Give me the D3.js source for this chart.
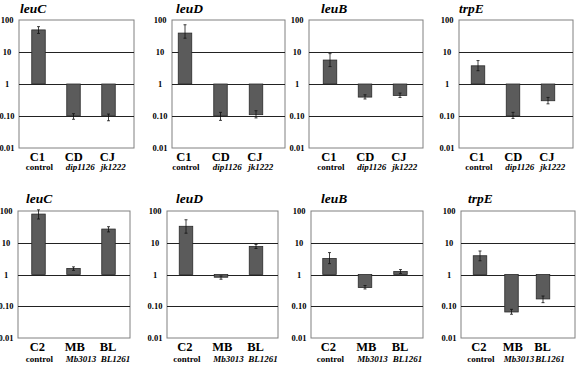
<!DOCTYPE html>
<html>
<head>
<meta charset="utf-8">
<script src="https://cdn.jsdelivr.net/npm/d3@7"></script>
<style>
  body { margin: 0; background: #fff; }
</style>
</head>
<body>
<div id="chart"></div>
<script>
// genes (panel titles) and strains
const genes = ["leuC", "leuD", "leuB", "trpE"];
const topStrains = ["C1", "CD", "CJ"];
const topSubs = ["control", "dip1126", "jk1222"];
const botStrains = ["C2", "MB", "BL"];
const botSubs = ["control", "Mb3013", "BL1261"];

// y ticks
const yTicks = [100, 10, 1, 0.1, 0.01];
const yTickLabels = ["100", "10", "1", "0.10", "0.01"];
const gridVals = [10, 1, 0.1];

// relative expression, one row per gene (leuC, leuD, leuB, trpE)
const topMean = [[49, 0.10, 0.10], [39, 0.10, 0.11], [5.6, 0.39, 0.44], [3.7, 0.10, 0.30]];
const topLow  = [[38, 0.079, 0.071], [27, 0.073, 0.087], [3.5, 0.34, 0.38], [2.6, 0.084, 0.24]];
const topHigh = [[62, 0.118, 0.115], [71, 0.13, 0.146], [8.9, 0.46, 0.52], [5.4, 0.13, 0.38]];
const botMean = [[80, 1.55, 27], [33, 0.82, 7.6], [3.2, 0.39, 1.24], [3.9, 0.066, 0.17]];
const botLow  = [[56, 1.35, 22], [20, 0.71, 6.6], [2.2, 0.35, 1.08], [2.7, 0.056, 0.13]];
const botHigh = [[109, 1.74, 32], [53, 0.9, 8.8], [4.9, 0.45, 1.43], [5.5, 0.08, 0.21]];

// panel boxes (layout only)
const topRow = { y0: 20, y1: 148, labelY: 160.5, subY: 170, titleY: 13 };
const botRow = { y0: 211, y1: 338, labelY: 351, subY: 361.5, titleY: 202.5 };
const topBoxes = [
  { x0: 19, x1: 134, c0: 38.5, c2: 108.5, tx: 20 },
  { x0: 172, x1: 285, c0: 185, c2: 256, tx: 176 },
  { x0: 309, x1: 423, c0: 330, c2: 400, tx: 321 },
  { x0: 459, x1: 573, c0: 478, c2: 548, tx: 459 }
];
const botBoxes = [
  { x0: 18, x1: 130, c0: 38.5, c2: 108.5, tx: 26 },
  { x0: 167, x1: 278, c0: 186, c2: 256, tx: 176 },
  { x0: 311, x1: 423, c0: 329.5, c2: 400.5, tx: 321 },
  { x0: 461, x1: 575, c0: 480, c2: 543, tx: 468 }
];

const barW = 13.5;
const serif = "Liberation Serif";

const svg = d3.select("#chart")
  .append("svg")
    .attr("width", 576)
    .attr("height", 365)
    .attr("font-family", serif)
    .attr("font-weight", "bold");

function drawPanel(box, row, gene, strains, subs, mean, low, high) {
  const y = d3.scaleLog().domain([0.01, 100]).range([row.y1, row.y0]);
  const x = d3.scalePoint().domain(strains).range([box.c0, box.c2]);
  const g = svg.append("g");

  // box
  g.append("rect")
    .attr("x", box.x0).attr("y", row.y0)
    .attr("width", box.x1 - box.x0).attr("height", row.y1 - row.y0)
    .attr("fill", "none").attr("stroke", "#808080").attr("stroke-width", 1);

  // gridlines
  g.selectAll(".grid").data(gridVals).join("line")
    .attr("x1", box.x0).attr("x2", box.x1)
    .attr("y1", d => Math.round(y(d)) + 0.5).attr("y2", d => Math.round(y(d)) + 0.5)
    .attr("stroke", "#222").attr("stroke-width", 1);

  // y axis labels
  const ax = g.append("g")
    .attr("transform", `translate(${box.x0},0)`)
    .call(d3.axisLeft(y).tickValues(yTicks).tickFormat((d, i) => yTickLabels[i]).tickSize(0));
  ax.select(".domain").remove();
  ax.attr("font-family", serif).attr("font-size", null);
  ax.selectAll("text")
    .attr("x", -12)
    .attr("text-anchor", "middle")
    .style("font-family", serif)
    .style("font-weight", "bold")
    .style("font-size", "8.5px")
    .attr("fill", "#000");

  const data = strains.map((s, i) => ({ s: s, v: mean[i], lo: low[i], hi: high[i] }));

  // bars from 1
  g.selectAll(".bar").data(data).join("rect")
    .attr("x", d => x(d.s) - barW / 2)
    .attr("y", d => Math.min(y(d.v), y(1)))
    .attr("width", barW)
    .attr("height", d => Math.abs(y(d.v) - y(1)))
    .attr("fill", "#5b5b5b")
    .attr("stroke", "#2a2a2a")
    .attr("stroke-width", 0.8);

  // error bars
  const eb = g.selectAll(".err").data(data).join("g");
  eb.append("line")
    .attr("x1", d => x(d.s)).attr("x2", d => x(d.s))
    .attr("y1", d => y(d.lo)).attr("y2", d => y(d.hi))
    .attr("stroke", "#111").attr("stroke-width", 0.8);
  eb.append("line")
    .attr("x1", d => x(d.s) - 1.5).attr("x2", d => x(d.s) + 1.5)
    .attr("y1", d => y(d.lo)).attr("y2", d => y(d.lo))
    .attr("stroke", "#111").attr("stroke-width", 0.8);
  eb.append("line")
    .attr("x1", d => x(d.s) - 1.5).attr("x2", d => x(d.s) + 1.5)
    .attr("y1", d => y(d.hi)).attr("y2", d => y(d.hi))
    .attr("stroke", "#111").attr("stroke-width", 0.8);

  // title
  g.append("text")
    .attr("x", box.tx).attr("y", row.titleY)
    .style("font-family", serif).style("font-weight", "bold")
    .style("font-size", "13.5px").style("font-style", "italic")
    .text(gene);

  // category labels
  g.selectAll(".lab").data(strains).join("text")
    .attr("x", d => x(d) - barW / 2 - 2)
    .attr("y", row.labelY)
    .style("font-family", serif).style("font-weight", "bold")
    .style("font-size", "12.5px")
    .text(d => d);
  g.selectAll(".sub").data(subs).join("text")
    .attr("x", (d, i) => x(strains[i]) - barW / 2 - (i === 0 ? 6 : 1))
    .attr("y", row.subY)
    .style("font-family", serif).style("font-weight", "bold")
    .style("font-size", "9px")
    .style("font-style", (d, i) => i === 0 ? "normal" : "italic")
    .text(d => d);
}

genes.forEach((gene, i) => {
  drawPanel(topBoxes[i], topRow, gene, topStrains, topSubs, topMean[i], topLow[i], topHigh[i]);
  drawPanel(botBoxes[i], botRow, gene, botStrains, botSubs, botMean[i], botLow[i], botHigh[i]);
});
</script>
</body>
</html>
